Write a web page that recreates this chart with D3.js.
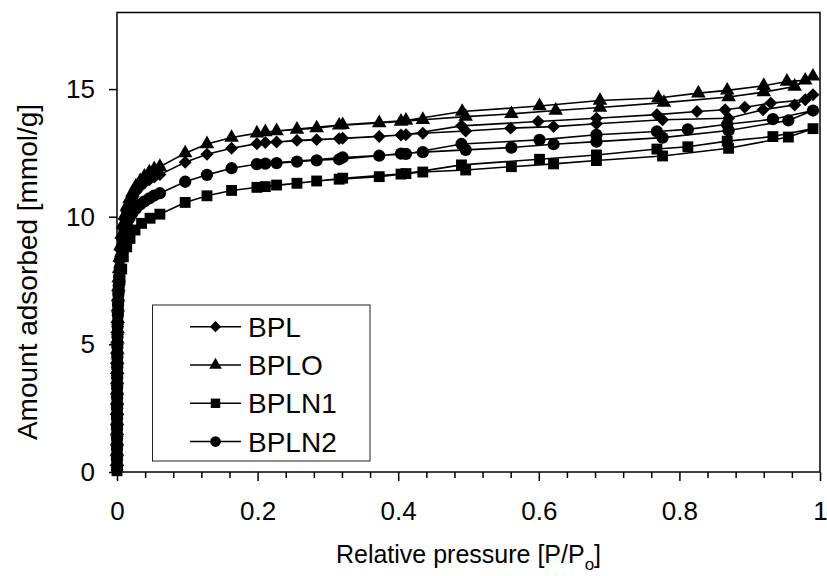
<!DOCTYPE html>
<html>
<head>
<meta charset="utf-8">
<script src="https://cdn.jsdelivr.net/npm/d3@7"></script>
<style>
  body { margin: 0; background: #fff; }
  text { font-family: "Liberation Sans", Arial, sans-serif; fill: #000; }
</style>
</head>
<body>
<div id="chart"></div>
<script>
// [P/Po, mmol/g] pairs, adsorption then desorption branch
var bplAds = [
  [0.00001, 0.2], [0.00002, 0.6], [0.00003, 1.0], [0.00005, 1.4], [0.00007, 1.8],
  [0.0001, 2.2], [0.00013, 2.6], [0.00017, 3.0], [0.00022, 3.4], [0.00028, 3.8],
  [0.00035, 4.2], [0.00044, 4.6], [0.00055, 5.0], [0.0007, 5.4], [0.0009, 5.8],
  [0.0012, 6.25], [0.0015, 6.65], [0.0019, 7.05], [0.0024, 7.45], [0.003, 7.85],
  [0.0038, 8.25], [0.005, 8.7], [0.0066, 9.15], [0.0085, 9.55],
  [0.011, 9.9], [0.014, 10.2], [0.018, 10.5], [0.022, 10.75], [0.027, 10.98],
  [0.033, 11.17], [0.039, 11.32], [0.046, 11.45], [0.053, 11.56], [0.061, 11.65],
  [0.097, 12.13], [0.128, 12.45], [0.163, 12.68], [0.199, 12.86], [0.227, 12.93],
  [0.256, 12.99], [0.284, 13.02], [0.316, 13.06], [0.373, 13.14], [0.404, 13.2],
  [0.435, 13.27], [0.496, 13.36], [0.56, 13.47], [0.621, 13.53], [0.682, 13.64],
  [0.776, 13.8], [0.87, 13.86], [0.919, 14.19], [0.964, 14.38], [0.99, 14.78]
];
var bplDes = [
  [0.979, 14.58], [0.93, 14.45], [0.893, 14.29], [0.865, 14.19], [0.825, 14.12],
  [0.768, 14.0], [0.682, 13.86], [0.599, 13.73], [0.49, 13.56], [0.411, 13.21],
  [0.321, 13.07], [0.211, 12.91]
];

var bploAds = [
  [0.00001, 0.4], [0.00002, 0.8], [0.00003, 1.2], [0.00005, 1.6], [0.00007, 2.0],
  [0.0001, 2.4], [0.00013, 2.8], [0.00017, 3.2], [0.00022, 3.6], [0.00028, 4.0],
  [0.00035, 4.4], [0.00044, 4.8], [0.00055, 5.2], [0.0007, 5.6], [0.0009, 6.0],
  [0.0012, 6.45], [0.0015, 6.85], [0.0019, 7.25], [0.0024, 7.6], [0.003, 7.95],
  [0.0038, 8.4], [0.005, 8.85], [0.0066, 9.3], [0.0085, 9.7],
  [0.011, 10.05], [0.014, 10.4], [0.018, 10.7], [0.022, 10.95], [0.027, 11.2],
  [0.033, 11.4], [0.039, 11.58], [0.046, 11.75], [0.053, 11.87], [0.061, 11.96],
  [0.097, 12.49], [0.128, 12.85], [0.163, 13.1], [0.199, 13.27], [0.227, 13.36],
  [0.256, 13.42], [0.284, 13.47], [0.316, 13.58], [0.373, 13.67], [0.404, 13.73],
  [0.435, 13.8], [0.496, 13.92], [0.561, 14.03], [0.624, 14.16], [0.687, 14.28],
  [0.778, 14.47], [0.87, 14.69], [0.92, 14.88], [0.964, 15.1], [0.99, 15.5]
];
var bploDes = [
  [0.979, 15.34], [0.953, 15.3], [0.92, 15.13], [0.868, 14.95], [0.827, 14.84],
  [0.77, 14.65], [0.687, 14.55], [0.601, 14.34], [0.491, 14.12], [0.411, 13.77],
  [0.321, 13.6], [0.211, 13.32]
];

var bpln1Ads = [
  [0.00001, 0.05], [0.00002, 0.45], [0.00003, 0.85], [0.00005, 1.25], [0.00007, 1.65],
  [0.0001, 2.05], [0.00013, 2.45], [0.00017, 2.85], [0.00022, 3.25], [0.00028, 3.65],
  [0.00035, 4.05], [0.00044, 4.45], [0.00055, 4.85], [0.0007, 5.25], [0.0009, 5.65],
  [0.0012, 6.05], [0.0016, 6.45], [0.0022, 6.85], [0.003, 7.2], [0.0043, 7.52],
  [0.0067, 7.95], [0.009, 8.43], [0.0138, 8.82],
  [0.0185, 9.15], [0.0256, 9.48], [0.035, 9.74], [0.047, 9.94], [0.061, 10.1],
  [0.097, 10.56], [0.128, 10.82], [0.163, 11.03], [0.199, 11.15], [0.227, 11.24],
  [0.256, 11.31], [0.284, 11.4], [0.316, 11.47], [0.373, 11.57], [0.404, 11.67],
  [0.435, 11.75], [0.496, 11.83], [0.561, 11.96], [0.621, 12.07], [0.682, 12.2],
  [0.776, 12.38], [0.87, 12.68], [0.955, 13.12], [0.99, 13.45]
];
var bpln1Des = [
  [0.933, 13.14], [0.868, 12.96], [0.812, 12.74], [0.768, 12.65], [0.682, 12.42],
  [0.601, 12.25], [0.49, 12.03], [0.411, 11.69], [0.321, 11.51], [0.211, 11.18]
];

var bpln2Ads = [
  [0.00001, 0.1], [0.00002, 0.5], [0.00003, 0.9], [0.00005, 1.3], [0.00007, 1.7],
  [0.0001, 2.1], [0.00013, 2.5], [0.00017, 2.9], [0.00022, 3.3], [0.00028, 3.7],
  [0.00035, 4.1], [0.00044, 4.5], [0.00055, 4.9], [0.0007, 5.3], [0.0009, 5.7],
  [0.0012, 6.15], [0.0015, 6.55], [0.0019, 6.95], [0.0024, 7.3], [0.003, 7.65],
  [0.0038, 8.0], [0.005, 8.4], [0.0066, 8.8], [0.0085, 9.15],
  [0.011, 9.45], [0.014, 9.7], [0.018, 9.95], [0.022, 10.15], [0.027, 10.32],
  [0.033, 10.48], [0.039, 10.6], [0.046, 10.72], [0.053, 10.83], [0.061, 10.92],
  [0.097, 11.37], [0.128, 11.64], [0.163, 11.9], [0.199, 12.06], [0.227, 12.1],
  [0.256, 12.16], [0.284, 12.21], [0.316, 12.25], [0.373, 12.39], [0.404, 12.47],
  [0.435, 12.53], [0.496, 12.62], [0.561, 12.71], [0.621, 12.84], [0.682, 12.94],
  [0.776, 13.1], [0.87, 13.38], [0.955, 13.77], [0.99, 14.16]
];
var bpln2Des = [
  [0.933, 13.82], [0.868, 13.62], [0.812, 13.42], [0.768, 13.34], [0.682, 13.21],
  [0.601, 13.01], [0.49, 12.85], [0.411, 12.46], [0.321, 12.32], [0.211, 12.08]
];

var seriesNames = ["BPL", "BPLO", "BPLN1", "BPLN2"];
var seriesMarkers = ["diamond", "triangle", "square", "circle"];
var xMajorTicks = [0, 0.2, 0.4, 0.6, 0.8, 1];
var yTicks = [0, 5, 10, 15];

var series = [
  { name: seriesNames[0], marker: seriesMarkers[0], values: bplAds.concat(bplDes) },
  { name: seriesNames[1], marker: seriesMarkers[1], values: bploAds.concat(bploDes) },
  { name: seriesNames[2], marker: seriesMarkers[2], values: bpln1Ads.concat(bpln1Des) },
  { name: seriesNames[3], marker: seriesMarkers[3], values: bpln2Ads.concat(bpln2Des) }
];

var width = 827;
var height = 576;
var plotLeft = 117, plotRight = 820, plotTop = 12.5, plotBottom = 472;

/* Scale */
var xScale = d3.scaleLinear().domain([0, 1]).range([plotLeft, plotRight]);
var yScale = d3.scaleLinear().domain([0, 18]).range([plotBottom, plotTop]);

var svg = d3.select("#chart")
  .append("svg")
  .attr("width", width)
  .attr("height", height);

/* Markers */
var symbolFor = {
  diamond: { type: d3.symbolSquare, size: 84, rotate: 45 },
  triangle: { type: d3.symbolTriangle, size: 92, rotate: 0 },
  square: { type: d3.symbolSquare, size: 118, rotate: 0 },
  circle: { type: d3.symbolCircle, size: 118, rotate: 0 }
};

function drawMarker(g, kind, cx, cy, scale) {
  var s = symbolFor[kind];
  g.append("path")
    .attr("d", d3.symbol().type(s.type).size(s.size * scale)())
    .attr("transform", "translate(" + cx + "," + cy + ") rotate(" + s.rotate + ")")
    .attr("fill", "#000");
}

/* Axes */
var xAxis = d3.axisBottom(xScale)
  .tickValues(xMajorTicks)
  .tickSize(9)
  .tickPadding(21)
  .tickFormat(d3.format(""));

var xMinor = d3.axisBottom(xScale)
  .tickValues(d3.range(1, 25).filter((i) => i % 5 !== 0).map((i) => i * 0.04))
  .tickSize(6)
  .tickFormat("");

var yAxis = d3.axisLeft(yScale)
  .tickValues(yTicks)
  .tickSize(8)
  .tickPadding(14)
  .tickFormat(d3.format(""));

svg.append("g")
  .attr("class", "x axis")
  .attr("transform", `translate(0, ${plotBottom})`)
  .call(xAxis);

svg.append("g")
  .attr("class", "x minor")
  .attr("transform", `translate(0, ${plotBottom})`)
  .call(xMinor);

svg.append("g")
  .attr("class", "y axis")
  .attr("transform", `translate(${plotLeft}, 0)`)
  .call(yAxis);

svg.selectAll(".domain").remove();
svg.selectAll(".tick line").attr("stroke", "#000").attr("stroke-width", 1.5);
svg.selectAll(".axis .tick text")
  .style("font-size", "26px")
  .style("font-family", "'Liberation Sans', Arial, sans-serif");

/* Frame */
svg.append("rect")
  .attr("x", plotLeft)
  .attr("y", plotTop)
  .attr("width", plotRight - plotLeft)
  .attr("height", plotBottom - plotTop)
  .attr("fill", "none")
  .attr("stroke", "#000")
  .attr("stroke-width", 1.5);

/* Lines and markers */
var line = d3.line()
  .x((d) => xScale(d[0]))
  .y((d) => yScale(d[1]));

var plot = svg.append("g").attr("class", "plot");

series.forEach(function (s) {
  plot.append("path")
    .attr("d", line(s.values))
    .attr("fill", "none")
    .attr("stroke", "#000")
    .attr("stroke-width", 1.6);
});

series.forEach(function (s) {
  var g = plot.append("g");
  s.values.forEach(function (d) {
    drawMarker(g, s.marker, xScale(d[0]), yScale(d[1]), 1);
  });
});

/* Legend */
var legend = svg.append("g").attr("class", "legend");
legend.append("rect")
  .attr("x", 152.5)
  .attr("y", 305)
  .attr("width", 217.5)
  .attr("height", 156)
  .attr("fill", "#fff")
  .attr("stroke", "#222")
  .attr("stroke-width", 1);

series.forEach(function (s, i) {
  var ly = 326.7 + i * 38.3;
  legend.append("line")
    .attr("x1", 190).attr("x2", 241)
    .attr("y1", ly).attr("y2", ly)
    .attr("stroke", "#000")
    .attr("stroke-width", 1.5);
  drawMarker(legend, s.marker, 215.5, ly, 0.75);
  legend.append("text")
    .attr("x", 248)
    .attr("y", ly)
    .attr("dy", "0.36em")
    .style("font-size", "28px")
    .text(s.name);
});

/* Axis titles */
var xTitle = svg.append("text")
  .attr("x", (plotLeft + plotRight) / 2)
  .attr("y", 563)
  .attr("text-anchor", "middle")
  .style("font-size", "25px");
xTitle.append("tspan").text("Relative pressure [P/P");
xTitle.append("tspan").attr("dy", 7).style("font-size", "17px").text("o");
xTitle.append("tspan").attr("dy", -7).text("]");

svg.append("text")
  .attr("transform", "translate(37, 272) rotate(-90)")
  .attr("text-anchor", "middle")
  .style("font-size", "28px")
  .text("Amount adsorbed [mmol/g]");
</script>
</body>
</html>
